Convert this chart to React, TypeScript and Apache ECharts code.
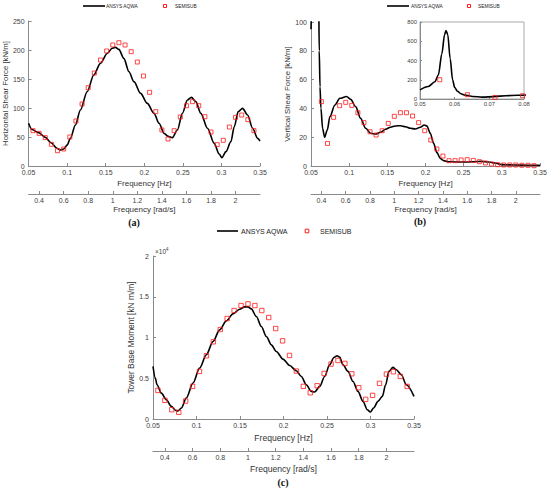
import React, { useEffect, useRef } from "react";
import * as echarts from "echarts";

// ---------- Data ----------
// SEMISUB frequencies (Hz) – points spaced 0.05 rad/s from 0.35 to 2.15 rad/s
const semiFreq = [
  0.0557, 0.06366, 0.07162, 0.07958, 0.08754, 0.09549, 0.10345, 0.11141, 0.11937, 0.12732,
  0.13528, 0.14324, 0.1512, 0.15915, 0.16711, 0.17507, 0.18303, 0.19099, 0.19894, 0.2069,
  0.21486, 0.22282, 0.23077, 0.23873, 0.24669, 0.25465, 0.26261, 0.27056, 0.27852, 0.28648,
  0.29444, 0.30239, 0.31035, 0.31831, 0.32627, 0.33423, 0.34218,
];

// (a) Horizontal shear force [kN/m]
const aqwaAFreq = [
  0.05, 0.0543, 0.063, 0.0717, 0.079, 0.0868, 0.0912, 0.0955, 0.0999, 0.1042, 0.1107, 0.1172,
  0.1259, 0.1345, 0.1432, 0.1519, 0.1584, 0.1627, 0.167, 0.1735, 0.1801, 0.1866, 0.1952, 0.2039,
  0.2126, 0.2191, 0.2256, 0.231, 0.2364, 0.2429, 0.2494, 0.2559, 0.2611, 0.2668, 0.2733, 0.2819,
  0.2906, 0.2971, 0.3006, 0.3058, 0.3123, 0.3166, 0.3218, 0.3274, 0.3339, 0.3404, 0.3469, 0.35,
];
const aqwaAVal = [
  73.6, 63, 57.5, 49.4, 40, 30.5, 27.6, 29.3, 36, 47.7, 70.7, 96.5, 128, 157, 177, 194, 203,
  204.6, 201, 185.6, 162.6, 145.4, 125.3, 108, 90.8, 73.6, 56.3, 51, 49, 62, 90.8, 113.8, 118.4,
  111, 90.8, 65, 39, 20.7, 14.4, 24.7, 42, 67.8, 93.7, 99.4, 88, 65, 47.7, 43.1,
];
const semiAVal = [
  60.9, 56.3, 48.9, 37.4, 26.4, 29.3, 50, 77.6, 106.9, 135, 160.3, 182.7, 198.3, 208.6, 212.6,
  208.6, 197.1, 179.3, 155.2, 127, 93.7, 62.1, 46.6, 60.9, 84.5, 104, 110.9, 104, 85, 58.6, 36.8,
  44.3, 67.2, 83.9, 87.9, 79.9, 60.9,
];

// (b) Vertical shear force [kN/m]
const aqwaBFreq = [
  0.05, 0.0524, 0.0543, 0.0553, 0.0563, 0.0571, 0.0575, 0.058, 0.0587, 0.0594, 0.06, 0.0608,
  0.0618, 0.063, 0.0652, 0.0679, 0.0713, 0.0748, 0.0813, 0.0878, 0.0965, 0.102, 0.1085, 0.115,
  0.1216, 0.1281, 0.1346, 0.1411, 0.1476, 0.1541, 0.1607, 0.1672, 0.1737, 0.1802, 0.1867, 0.1932,
  0.1984, 0.2019, 0.2063, 0.2106, 0.215, 0.2193, 0.2237, 0.2302, 0.2389, 0.2476, 0.2562, 0.2649,
  0.2736, 0.2823, 0.291, 0.2996, 0.317, 0.3344, 0.35,
];
const aqwaBVal = [
  95, 130, 180, 250, 470, 670, 712, 670, 420, 200, 120, 80, 55, 40, 26, 20, 25, 34.3, 42.4, 47,
  48.3, 46.3, 41.2, 33.1, 26.2, 22.7, 22.2, 23.4, 25.5, 26.9, 27.8, 28, 27.3, 26.2, 25.7, 26.9,
  28.5, 27.8, 22.7, 15.7, 9.3, 5.3, 3.7, 3, 2.8, 2.8, 2.8, 3, 3.2, 2.8, 2.1, 0.9, 0.7, 0.5, 0.5,
];
const semiBVal = [
  200, 44.7, 15.7, 33.8, 41.9, 44.2, 42.1, 37, 30.1, 23.8, 21.5, 24.5, 29.6, 34.5, 37, 37, 34.7,
  30.1, 24.5, 18, 11.8, 6.9, 3.7, 3.7, 4.2, 4.4, 3.9, 3, 2.1, 1.4, 0.9, 0.7, 0.7, 0.7, 0.5, 0.5, 0.2,
];

// (c) Tower base moment [kN m/m]
const aqwaCFreq = [
  0.05, 0.0527, 0.0546, 0.0596, 0.0653, 0.0711, 0.0761, 0.0787, 0.0826, 0.0883, 0.096, 0.1036,
  0.1113, 0.119, 0.1266, 0.1343, 0.1419, 0.1496, 0.1554, 0.1592, 0.163, 0.1688, 0.1745, 0.1803,
  0.186, 0.1917, 0.1994, 0.2071, 0.2147, 0.2205, 0.2262, 0.232, 0.2358, 0.2416, 0.2473, 0.253,
  0.258, 0.2615, 0.2645, 0.2684, 0.2741, 0.2799, 0.2856, 0.2914, 0.2963, 0.2998, 0.3036, 0.3086,
  0.3136, 0.3174, 0.3212, 0.3258, 0.3297, 0.3354, 0.3412, 0.35,
];
const aqwaCVal = [
  6450, 5020, 4200, 3180, 2370, 1550, 1060, 980, 1350, 2570, 4410, 6250, 7880, 9510, 10940, 12040,
  12900, 13470, 13760, 13760, 13510, 12570, 11350, 10120, 9100, 8290, 7350, 6570, 5920, 5220, 4200,
  3390, 3310, 4000, 5220, 6650, 7550, 7760, 7590, 6650, 5840, 4610, 3390, 2160, 1140, 860, 1350,
  2160, 2780, 4200, 5840, 6330, 6040, 5430, 4200, 2780,
];
const semiCVal = [
  3510, 2290, 1140, 820, 2200, 4000, 5840, 7760, 9470, 10980, 12330, 13310, 13920, 14120, 13920,
  13310, 12450, 11100, 9590, 7800, 5880, 4000, 3220, 4080, 5590, 6740, 7180, 6820, 5550, 3840,
  2410, 2900, 4370, 5510, 5800, 5220, 4000,
];

const radTicks = [0.4, 0.6, 0.8, 1, 1.2, 1.4, 1.6, 1.8, 2];
const legendLine = "ANSYS AQWA";
const legendMarker = "SEMISUB";

// ---------- Styling ----------
const FONT = "Liberation Sans, Arial, sans-serif";
const AXIS_COLOR = "#8a8a8a";
const LABEL_COLOR = "#404040";
const NAME_COLOR = "#333";
const RED = "#ff1a1a";

const zip = (xs: number[], ys: number[]) => xs.map((x, i) => [x, ys[i]]);

function hzAxis(gridIndex: number, nameGap: number, nameSize: number) {
  return {
    type: "value",
    gridIndex,
    min: 0.05,
    max: 0.35,
    interval: 0.05,
    name: "Frequency [Hz]",
    nameLocation: "middle",
    nameGap,
    nameTextStyle: { fontSize: nameSize, color: NAME_COLOR, fontFamily: FONT },
    axisLine: { show: true, onZero: false, lineStyle: { color: AXIS_COLOR, width: 1 } },
    axisTick: { show: true, inside: true, length: 3, lineStyle: { color: AXIS_COLOR } },
    axisLabel: { fontSize: 7, color: LABEL_COLOR, fontFamily: FONT, margin: 3 },
    splitLine: { show: false },
  };
}

function radAxis(gridIndex: number, offset: number, nameGap: number, nameSize: number) {
  return {
    type: "value",
    gridIndex,
    position: "bottom",
    offset,
    min: 0.05 * 2 * Math.PI,
    max: 0.35 * 2 * Math.PI,
    name: "Frequency [rad/s]",
    nameLocation: "middle",
    nameGap,
    nameTextStyle: { fontSize: nameSize, color: NAME_COLOR, fontFamily: FONT },
    axisLine: { show: true, onZero: false, lineStyle: { color: AXIS_COLOR, width: 1 } },
    axisTick: {
      show: true,
      inside: true,
      length: 3,
      customValues: radTicks,
      lineStyle: { color: AXIS_COLOR },
    },
    axisLabel: {
      fontSize: 7,
      color: LABEL_COLOR,
      fontFamily: FONT,
      margin: 3,
      customValues: radTicks,
    },
    splitLine: { show: false },
  };
}

function valAxis(gridIndex: number, max: number, interval: number, name: string, nameGap: number, nameSize: number, extra: any = {}) {
  return {
    type: "value",
    gridIndex,
    min: 0,
    max,
    interval,
    name,
    nameLocation: "middle",
    nameGap,
    nameTextStyle: { fontSize: nameSize, color: NAME_COLOR, fontFamily: FONT },
    axisLine: { show: true, lineStyle: { color: AXIS_COLOR, width: 1 } },
    axisTick: { show: true, inside: true, length: 3, lineStyle: { color: AXIS_COLOR } },
    axisLabel: { fontSize: 7, color: LABEL_COLOR, fontFamily: FONT, margin: 4 },
    splitLine: { show: false },
    ...extra,
  };
}

function lineSeries(xi: number, yi: number, xs: number[], ys: number[], z = 2) {
  return {
    type: "line",
    name: legendLine,
    xAxisIndex: xi,
    yAxisIndex: yi,
    data: zip(xs, ys),
    symbol: "none",
    smooth: 0.3,
    smoothMonotone: "x",
    lineStyle: { color: "#000", width: 1.6 },
    z,
    clip: true,
  };
}

function scatterSeries(xi: number, yi: number, xs: number[], ys: number[], size = 4, z = 3) {
  return {
    type: "scatter",
    name: legendMarker,
    xAxisIndex: xi,
    yAxisIndex: yi,
    data: zip(xs, ys),
    symbol: "rect",
    symbolSize: size,
    itemStyle: { color: "rgba(255,255,255,0)", borderColor: RED, borderWidth: 1 },
    z,
    clip: true,
  };
}

function legendGraphic(lx1: number, lx2: number, y: number, tx: number, mx: number, sx: number, fs: number, ms: number) {
  return [
    { type: "line", shape: { x1: lx1, y1: y, x2: lx2, y2: y }, style: { stroke: "#000", lineWidth: 1.6 } },
    {
      type: "text",
      x: tx,
      y,
      style: { text: legendLine, fontSize: fs, fontFamily: FONT, fill: "#222", align: "left", verticalAlign: "middle" },
    },
    {
      type: "rect",
      shape: { x: mx - ms / 2, y: y - ms / 2, width: ms, height: ms },
      style: { fill: "none", stroke: RED, lineWidth: 1 },
    },
    {
      type: "text",
      x: sx,
      y,
      style: { text: legendMarker, fontSize: fs, fontFamily: FONT, fill: "#222", align: "left", verticalAlign: "middle" },
    },
  ];
}

function panelLabel(text: string, x: number, y: number) {
  return {
    type: "text",
    x,
    y,
    style: {
      text,
      fontSize: 10,
      fontWeight: "bold",
      fontFamily: "Liberation Serif, DejaVu Serif, serif",
      fill: "#111",
      align: "center",
      verticalAlign: "middle",
    },
  };
}

export default function App() {
  const ref = useRef<HTMLDivElement>(null);

  useEffect(() => {
    if (!ref.current) return;
    document.body.style.margin = "0";
    const chart = echarts.init(ref.current, undefined, { renderer: "svg" });

    const option: any = {
      animation: false,
      backgroundColor: "#fff",
      grid: [
        { left: 28, top: 21, width: 232, height: 145 },
        { left: 311, top: 22, width: 229, height: 144 },
        {
          left: 420,
          top: 22,
          width: 104,
          height: 77,
          show: true,
          borderColor: "#a8a8a8",
          borderWidth: 1,
          backgroundColor: "#fff",
          z: 5,
        },
        { left: 153, top: 256, width: 261, height: 163 },
      ],
      xAxis: [
        hzAxis(0, 13, 8),
        radAxis(0, 28, 11, 8),
        hzAxis(1, 13, 8),
        radAxis(1, 28, 11, 8),
        {
          type: "value",
          gridIndex: 2,
          min: 0.05,
          max: 0.08,
          interval: 0.01,
          axisLine: { show: true, onZero: false, lineStyle: { color: AXIS_COLOR } },
          axisTick: { show: true, inside: true, length: 2, lineStyle: { color: AXIS_COLOR } },
          axisLabel: { fontSize: 5.8, color: LABEL_COLOR, fontFamily: FONT, margin: 2 },
          splitLine: { show: false },
          z: 6,
        },
        hzAxis(3, 14, 8.6),
        radAxis(3, 32, 13, 8.6),
      ],
      yAxis: [
        valAxis(0, 250, 50, "Horizontal Shear Force [kN/m]", 16, 7.8),
        valAxis(1, 100, 20, "Vertical Shear Force [kN/m]", 17, 7.8),
        {
          type: "value",
          gridIndex: 2,
          min: 0,
          max: 800,
          interval: 200,
          axisLine: { show: true, lineStyle: { color: AXIS_COLOR } },
          axisTick: { show: true, inside: true, length: 2, lineStyle: { color: AXIS_COLOR } },
          axisLabel: { fontSize: 5.8, color: LABEL_COLOR, fontFamily: FONT, margin: 3 },
          splitLine: { show: false },
          z: 6,
        },
        valAxis(3, 20000, 5000, "Tower Base Moment [kN m/m]", 16, 8.4, {
          axisLabel: {
            fontSize: 7,
            color: LABEL_COLOR,
            fontFamily: FONT,
            margin: 4,
            formatter: (v: number) => String(v / 10000),
          },
        }),
      ],
      series: [
        lineSeries(0, 0, aqwaAFreq, aqwaAVal),
        scatterSeries(0, 0, semiFreq, semiAVal),
        lineSeries(2, 1, aqwaBFreq, aqwaBVal),
        scatterSeries(2, 1, semiFreq, semiBVal),
        lineSeries(4, 2, aqwaBFreq, aqwaBVal, 8),
        scatterSeries(4, 2, semiFreq, semiBVal, 4, 9),
        lineSeries(5, 3, aqwaCFreq, aqwaCVal),
        scatterSeries(5, 3, semiFreq, semiCVal, 4.4),
      ],
      graphic: [
        ...legendGraphic(83, 105, 6, 106, 165, 175, 4.8, 3),
        ...legendGraphic(387, 409, 6, 411, 469, 478, 4.8, 3),
        ...legendGraphic(217, 238, 231, 241, 307, 320, 7, 3.6),
        panelLabel("(a)", 134, 222),
        panelLabel("(b)", 420, 221),
        panelLabel("(c)", 283, 482),
        {
          type: "text",
          x: 155,
          y: 251,
          style: {
            text: "×10{s|4}",
            fontSize: 6.5,
            fontFamily: FONT,
            fill: LABEL_COLOR,
            align: "left",
            verticalAlign: "middle",
            rich: { s: { fontSize: 4.5, verticalAlign: "top", fill: LABEL_COLOR, padding: [0, 0, 4, 0] } },
          },
        },
      ],
    };

    chart.setOption(option);
    return () => chart.dispose();
  }, []);

  return <div ref={ref} style={{ width: 550, height: 490, background: "#fff" }} />;
}
